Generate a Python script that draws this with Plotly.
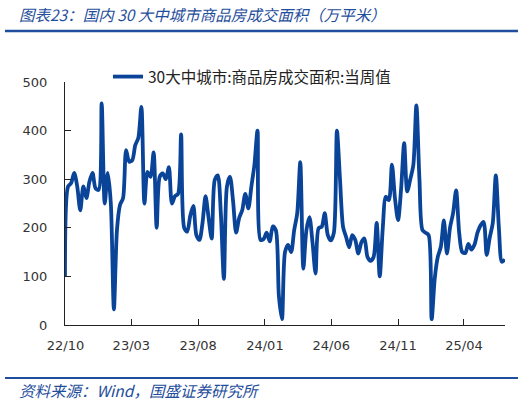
import pandas as pd
import plotly.graph_objects as go

# weekly series, 30 major cities, commercial housing transaction area (10k m2)
weeks = pd.date_range("2022-09-30", periods=145, freq="7D")
area = [
    99, 285, 292, 313, 285, 236, 285, 261, 295, 313, 281, 278, 456, 250, 313, 250,
    32, 195, 247, 261, 360, 336, 339, 370, 385, 449, 250, 315, 305, 355, 200, 305,
    312, 300, 325, 250, 265, 270, 392, 200, 192, 225, 245, 185, 175, 210, 265, 220,
    178, 298, 308, 230, 95, 285, 305, 255, 190, 220, 236, 270, 240, 285, 330, 400,
    175, 177, 190, 172, 203, 195, 60, 12, 150, 165, 150, 195, 230, 335, 116, 195,
    222, 170, 106, 199, 202, 230, 185, 174, 190, 400, 300, 202, 181, 160, 185, 175,
    147, 170, 178, 140, 132, 140, 210, 100, 200, 264, 257, 330, 260, 216, 280, 374,
    275, 300, 329, 452, 300, 195, 190, 185, 12, 95, 140, 161, 215, 147, 200, 230,
    277, 190, 150, 148, 167, 155, 165, 190, 205, 212, 144, 180, 210, 308, 200, 130,
    135,
]

tick_dates = ["2022-10-01", "2023-03-01", "2023-08-01", "2024-01-01",
              "2024-06-01", "2024-11-01", "2025-04-01"]
tick_text = ["22/10", "23/03", "23/08", "24/01", "24/06", "24/11", "25/04"]

series_name = "30大中城市:商品房成交面积:当周值"
title_text = "图表23：国内 30 大中城市商品房成交面积（万平米）"
source_text = "资料来源：Wind，国盛证券研究所"

line_blue = "#0a4499"
deco_blue = "#1f4e9c"

fig = go.Figure()
fig.add_trace(go.Scatter(
    x=weeks, y=area, mode="lines", name=series_name,
    line=dict(color=line_blue, width=3.8, shape="spline", smoothing=0.8),
))

# plot area in px: x 65..505, y 82..325
def px_x(p):
    return (p - 65) / 440.0

def px_y(p):
    return (325 - p) / 243.0

fig.update_layout(
    width=532, height=404,
    margin=dict(l=65, r=27, t=82, b=79),
    paper_bgcolor="white", plot_bgcolor="white",
    font=dict(family="DejaVu Sans", size=13, color="#333333"),
    showlegend=True,
    legend=dict(x=px_x(108), y=px_y(60), xanchor="left", yanchor="top",
                bgcolor="rgba(0,0,0,0)",
                font=dict(family="Noto Sans CJK SC", size=15.5, color="#222222")),
    xaxis=dict(
        type="date", range=[weeks[0], weeks[-1]],
        tickvals=tick_dates, ticktext=tick_text,
        showgrid=False, zeroline=False, automargin=False,
        showline=True, linecolor="#222222", linewidth=1,
        ticks="inside", ticklen=6, tickcolor="#222222",
        ticklabelstandoff=8,
    ),
    yaxis=dict(
        range=[0, 500], dtick=100,
        showgrid=False, zeroline=False, automargin=False,
        showline=True, linecolor="#222222", linewidth=1,
        ticks="inside", ticklen=6, tickcolor="#222222",
        ticklabelstandoff=14,
    ),
)

fig.add_annotation(
    text="<i>" + title_text + "</i>", xref="paper", yref="paper",
    x=px_x(17), y=px_y(14), xanchor="left", yanchor="middle", showarrow=False,
    font=dict(family="Noto Sans CJK SC", size=15.5, color=deco_blue),
)
fig.add_annotation(
    text="<i>" + source_text + "</i>", xref="paper", yref="paper",
    x=px_x(17), y=px_y(390), xanchor="left", yanchor="middle", showarrow=False,
    font=dict(family="Noto Sans CJK SC", size=15.5, color=deco_blue),
)
fig.add_shape(type="line", xref="paper", yref="paper",
              x0=px_x(5), x1=px_x(518), y0=px_y(31), y1=px_y(31),
              line=dict(color=deco_blue, width=2.5))
fig.add_shape(type="line", xref="paper", yref="paper",
              x0=px_x(5), x1=px_x(518), y0=px_y(378), y1=px_y(378),
              line=dict(color=deco_blue, width=2))

# the page's default 8px body margin would push the chart out of the window
fig.write_html("out.html", config={"displayModeBar": False},
               post_script="document.body.style.margin='0';")
